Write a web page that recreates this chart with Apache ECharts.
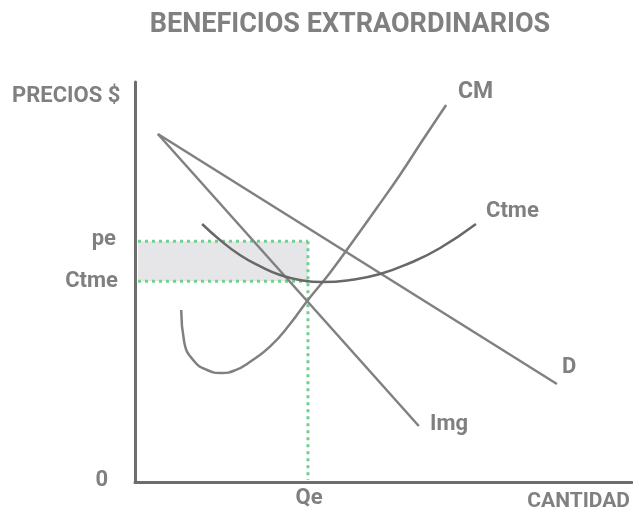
<!DOCTYPE html>
<html>
<head>
<meta charset="utf-8">
<script src="https://cdn.jsdelivr.net/npm/echarts@6/dist/echarts.min.js"></script>
<style>
html, body { margin: 0; padding: 0; background: #fff; }
#chart { width: 633px; height: 511px; }
</style>
</head>
<body>
<div id="chart"></div>
<script>
// curvas (unidades arbitrarias 0..100)
var demanda = [[4.6, 87], [84.9, 24.5]];
var ingMarg = [[4.6, 87], [57.1, 14]];
var costeMarg = [[9.3, 43], [9.9, 35], [11.7, 30.5], [14.5, 28], [17.5, 27.25], [20.1, 27.9],
  [23.1, 30], [27.2, 33.9], [31.2, 39.5], [34.8, 45.5], [39.2, 52.25], [43.9, 60.25],
  [48.5, 68.25], [53.3, 76.75], [57.9, 85.5], [62.6, 94.25]];
var costeMedio = [[13.5, 64.5], [17.1, 60.5], [21.1, 56.75], [25.2, 53.9], [29.2, 51.75], [33.2, 50.5],
  [37.6, 50], [43.3, 50.5], [49.3, 52], [55.3, 54.75], [61.4, 58.5], [68.6, 64.5]];
var qe = 34.8, pe = 60.2, ctme = 50.2, x0 = 0.6;

var gris = '#808080', grisOsc = '#6a6767', verde = '#6fd08f', txt = '#808080';
var fuente = 'Roboto, "Noto Sans", sans-serif';

var myChart = echarts.init(document.getElementById('chart'), null, { renderer: 'canvas' });

function linea(data, smooth, color) {
  return {
    type: 'line', data: data, smooth: smooth || false, symbol: 'none', silent: true,
    lineStyle: { color: color || gris, width: 2.5 }
  };
}
function punteada(data) {
  return {
    type: 'line', data: data, symbol: 'none', silent: true, z: 1,
    lineStyle: { color: verde, width: 3, type: [3, 4] }
  };
}
function texto(t, x, y, align, size) {
  return {
    type: 'text', x: x, y: y,
    style: { text: t, fill: txt, font: 'bold ' + (size || 22) + 'px ' + fuente, align: align || 'left', verticalAlign: 'middle' }
  };
}

var option = {
  animation: false,
  grid: { left: 135, top: 82, width: 497, height: 400 },
  xAxis: {
    type: 'value', min: 0, max: 100,
    axisLine: { show: true, onZero: false, lineStyle: { color: '#6d6d6d', width: 3 } },
    axisTick: { show: false }, axisLabel: { show: false }, splitLine: { show: false }
  },
  yAxis: {
    type: 'value', min: 0, max: 100,
    axisLine: { show: true, onZero: false, lineStyle: { color: '#6d6d6d', width: 3 } },
    axisTick: { show: false }, axisLabel: { show: false }, splitLine: { show: false }
  },
  series: [
    {
      type: 'line', data: [], silent: true,
      markArea: {
        silent: true, itemStyle: { color: '#e6e6e8' },
        data: [[{ coord: [x0, pe] }, { coord: [qe, ctme] }]]
      }
    },
    punteada([[x0, pe], [qe, pe]]),
    punteada([[x0, ctme], [qe, ctme]]),
    punteada([[qe, pe], [qe, 0.5]]),
    linea(demanda),
    linea(ingMarg),
    linea(costeMarg, 0.5),
    linea(costeMedio, 0.5, grisOsc)
  ],
  graphic: [
    texto('BENEFICIOS EXTRAORDINARIOS', 350, 25, 'center', 27),
    texto('PRECIOS $', 12, 96, 'left', 22),
    texto('CM', 458, 92, 'left', 23),
    texto('Ctme', 486, 211),
    texto('D', 562, 367),
    texto('Img', 430, 424),
    texto('pe', 116, 239, 'right'),
    texto('Ctme', 118, 281, 'right'),
    texto('0', 108, 480, 'right'),
    texto('Qe', 309, 498, 'center'),
    texto('CANTIDAD', 630, 502, 'right', 21)
  ]
};
myChart.setOption(option);
</script>
</body>
</html>
